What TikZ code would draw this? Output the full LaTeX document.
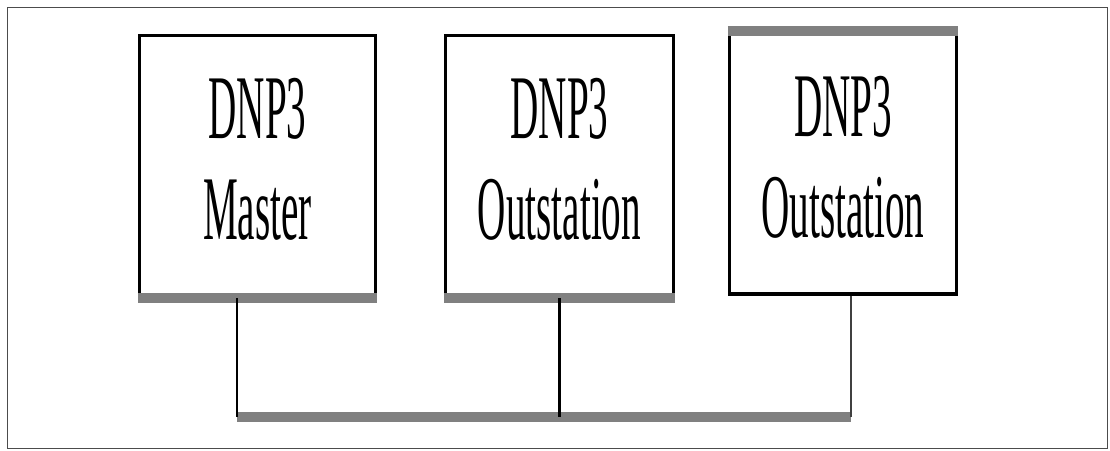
\documentclass[tikz,border=0pt]{standalone}
\usepackage{fontspec}
\setmainfont{Liberation Serif}
\usepackage{graphicx}

% 框内文字:窄长字体,两行居中
\newcommand{\kuangzi}[1]{\raisebox{-3pt}[\height][\depth]{\scalebox{0.43}[1]{\fontsize{91}{101}\selectfont\begin{tabular}{@{}c@{}}#1\end{tabular}}}}

\begin{document}
\begin{tikzpicture}[x=1pt,y=-1pt,
	kuang/.style={draw,line width=3.5pt,inner sep=0pt},
	dibian/.style={draw=black!50,line width=10pt},
	zongxian/.style={draw=black!50,line width=10pt},
	lianxian/.style={draw=black,line width=2.5pt}]
	\useasboundingbox (0,0) rectangle (1110,450);
	
	% 外框
	\draw[black!70,line width=1.6pt] (7.5,7.5) rectangle (1107.5,448.5);
	
	% 主站和两个从站
	\node[kuang,minimum width=236pt,minimum height=261pt] (zhu) at (257.5,166) {\kuangzi{DNP3\\Master}};
	\node[kuang,minimum width=228pt,minimum height=261pt] (cong1) at (559.5,166) {\kuangzi{DNP3\\Outstation}};
	\node[kuang,minimum width=227pt,minimum height=261pt] (cong2) at (843,163.5) {\kuangzi{DNP3\\Outstation}};
	
	% 框的粗灰边
	\draw[dibian] (zhu.south west) -- (zhu.south east);
	\draw[dibian] (cong1.south west) -- (cong1.south east);
	\draw[dibian] (cong2.north west) -- (cong2.north east);
	
	% 总线上的接点
	\coordinate (zhuxia) at ([xshift=-20.5pt]zhu.south);
	\coordinate (cong2xia) at ([xshift=8pt]cong2.south);
	\coordinate (zong) at (0,417);
	
	% 总线
	\draw[zongxian] (zhuxia |- zong) -- (cong2xia |- zong);
	
	% 各站连到总线
	\draw[lianxian] (zhuxia) -- (zhuxia |- zong);
	\draw[lianxian] (cong1.south) -- (cong1.south |- zong);
	\draw[lianxian,black!75] (cong2xia) -- (cong2xia |- zong);
\end{tikzpicture}
\end{document}
